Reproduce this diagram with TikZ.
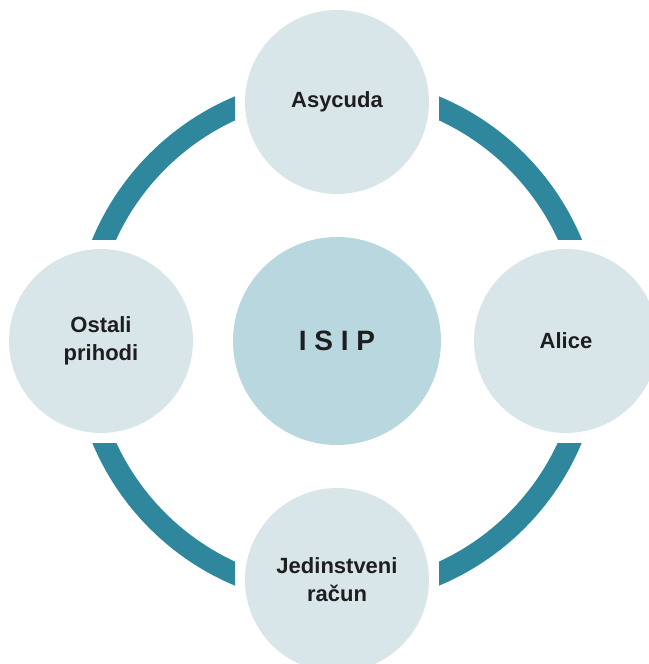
\documentclass[tikz,border=0pt]{standalone}
\usepackage{fontspec}
\setmainfont{Liberation Sans}
\definecolor{satfill}{HTML}{D9E6E9}
\definecolor{hubfill}{HTML}{B8D7DF}
\definecolor{ringc}{HTML}{2E879D}
\definecolor{txt}{HTML}{1E1E1E}
\begin{document}
\begin{tikzpicture}[x=1pt,y=-1pt,
  sat/.style={circle, fill=satfill, minimum size=184pt, inner sep=0pt, align=center,
    font=\fontsize{22}{28}\selectfont\bfseries, text=txt},
  hub/.style={circle, fill=hubfill, minimum size=208pt, inner sep=0pt,
    font=\fontsize{28}{32}\selectfont\bfseries, text=txt},
  ringarc/.style={fill=ringc, even odd rule}]
\useasboundingbox (0,0) rectangle (648,664);
\coordinate (C) at (337,341);
% ring segments
\begin{scope}
  \clip (439,0) rectangle (648,239);
  \fill[ringarc] (C) circle[radius=265] (C) circle[radius=243];
\end{scope}
\begin{scope}
  \clip (0,0) rectangle (235,239);
  \fill[ringarc] (C) circle[radius=265] (C) circle[radius=243];
\end{scope}
\begin{scope}
  \clip (0,443) rectangle (235,664);
  \fill[ringarc] (C) circle[radius=265] (C) circle[radius=243];
\end{scope}
\begin{scope}
  \clip (439,443) rectangle (648,664);
  \fill[ringarc] (C) circle[radius=265] (C) circle[radius=243];
\end{scope}
% nodes
\node[hub] (isip) at (C) {I S I P};
\node[sat] (asy) at (337,102) {Asycuda};
\node[sat] (alice) at (566,341) {Alice};
\node[sat] (jr) at (337,580) {Jedinstveni\\račun};
\node[sat] (op) at (101,341) {Ostali\\prihodi};
\end{tikzpicture}
\end{document}
